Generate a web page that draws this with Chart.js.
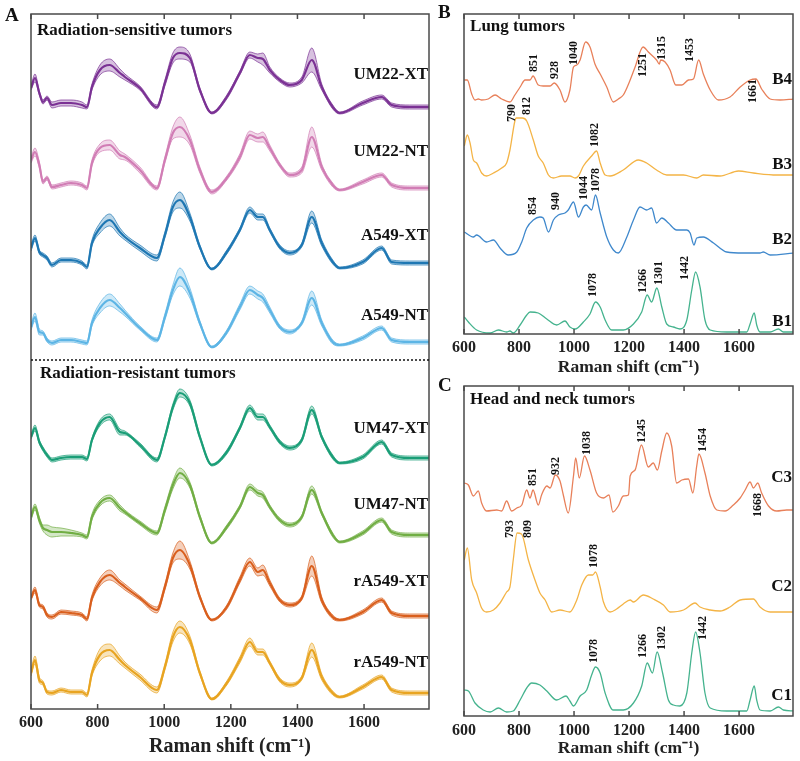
<!DOCTYPE html>
<html>
<head>
<meta charset="utf-8">
<script src="https://cdn.jsdelivr.net/npm/chart.js@4.4.1/dist/chart.umd.min.js"></script>
<style>
  body { margin: 0; background: #fff; width: 800px; height: 761px; position: relative; overflow: hidden; }
  .panel { position: absolute; }
  .letter { position: absolute; font: bold 19px "Liberation Serif", serif; line-height: 1; color: #111; }
</style>
</head>
<body>
<div class="panel" style="left:0;top:0"><canvas id="chartA" width="440" height="761"></canvas></div>
<div class="panel" style="left:440px;top:0"><canvas id="chartB" width="360" height="380"></canvas></div>
<div class="panel" style="left:440px;top:380px"><canvas id="chartC" width="360" height="381"></canvas></div>
<div class="letter" style="left:5px;top:5px">A</div>
<div class="letter" style="left:438px;top:2px">B</div>
<div class="letter" style="left:438px;top:375px">C</div>

<script>
const SERIF = '"Liberation Serif", "Times New Roman", serif';
const XTITLE = "Raman shift (cm\u207B\u00B9)";
const xTicks = [600, 800, 1000, 1200, 1400, 1600];

// ---- Panel A: mean spectra with spread, common Raman shift grid (cm-1) ----
const ramanA = [600, 612, 625, 636, 648, 663, 690, 720, 753, 768,
  783, 807, 836, 867, 882, 927, 978, 1002, 1026, 1047,
  1077, 1107, 1143, 1188, 1227, 1257, 1281, 1296, 1317, 1347,
  1377, 1413, 1443, 1473, 1506, 1527, 1596, 1653, 1683, 1737, 1795];

const namesA = ["UM22-XT", "UM22-NT", "A549-XT", "A549-NT", "UM47-XT", "UM47-NT", "rA549-XT", "rA549-NT"];
const colorsA = ["#7b3294", "#d27db5", "#1f78b4", "#5db5e6", "#1b9e77", "#72ae44", "#d95f1e", "#e8a421"];
const offsetsA = [596, 517, 440, 362, 244, 166, 89, 10];
const labelYA = [634, 557, 473, 393, 280, 204, 127, 46];

const um22xt = [25,35,20,11,15,8,10,10,8,6, 26,43,48,40,36,25,6,30,55,60, 55,23,0,16,40,58,55,54,43,33, 28,33,53,26,6,0,10,16,8,6, 6];
const um22xtSd = [2,4,2,2,2,3,3,3,3,2, 3,5,6,4,3,2,2,3,5,6, 4,2,1,2,2,3,4,6,3,2, 2,3,12,3,2,1,2,2,2,2, 2];
const um22nt = [32,40,27,10,14,5,7,9,7,4, 29,44,47,37,35,22,4,32,59,65, 52,22,0,14,35,57,54,55,44,27, 17,22,55,25,7,2,10,17,7,4, 4];
const um22ntSd = [3,4,3,2,2,2,2,2,2,2, 3,4,5,4,3,3,2,3,6,10, 5,3,2,2,3,4,4,5,3,2, 2,3,10,3,2,1,2,2,2,2, 2];
const a549xt = [21,31,17,14,11,4,9,9,6,2, 26,41,49,37,32,21,11,34,62,69, 52,22,0,17,39,59,52,52,39,22, 16,24,52,26,7,1,7,21,7,6, 6];
const a549xtSd = [3,3,2,2,2,2,2,2,2,2, 3,5,6,4,3,3,3,3,5,8, 4,2,1,2,2,3,3,3,2,2, 2,2,6,3,2,1,2,2,2,2, 2];
const a549nt = [20,30,15,14,7,4,7,7,5,4, 24,39,47,39,34,19,7,30,57,70, 54,24,0,15,40,57,52,49,37,20, 15,24,49,24,5,2,9,19,7,5, 5];
const a549ntSd = [3,4,3,2,2,2,2,2,2,2, 3,5,6,4,3,2,2,3,5,9, 5,2,1,2,3,4,4,4,3,2, 2,2,7,3,2,1,2,2,2,2, 2];
const um47xt = [28,37,23,16,10,5,7,8,8,6, 25,42,48,33,32,20,5,28,58,72, 62,28,0,13,37,57,48,48,38,23, 17,25,55,28,8,2,8,23,10,7, 7];
const um47xtSd = [2,3,2,2,2,2,2,2,2,2, 2,3,3,3,2,2,2,2,3,4, 3,2,1,2,2,3,3,3,2,2, 2,2,4,2,2,1,2,2,2,2, 2];
const um47nt = [26,36,23,15,13,11,11,10,8,6, 26,40,45,35,31,20,10,33,58,70, 58,26,0,16,36,56,50,48,36,23, 18,26,53,30,8,1,10,23,11,8, 8];
const um47ntSd = [3,3,3,3,5,5,4,3,2,2, 3,3,3,3,2,2,2,3,4,5, 3,2,1,2,2,3,3,3,2,2, 2,2,4,2,2,1,2,2,2,2, 2];
const ra549xt = [22,30,15,13,5,3,8,7,5,1, 22,38,45,37,33,22,10,33,62,70, 55,23,0,13,40,58,48,50,37,20, 15,22,54,20,3,0,8,20,7,4, 4];
const ra549xtSd = [2,3,2,2,2,2,2,2,2,2, 3,4,5,3,3,2,3,3,5,9, 4,2,1,2,3,4,4,5,3,2, 2,2,10,3,2,1,2,2,2,2, 2];
const ra549nt = [26,39,19,16,7,6,9,7,7,4, 26,44,49,39,34,22,9,32,62,72, 59,26,0,16,39,57,47,47,36,19, 14,21,49,22,6,2,12,22,9,6, 6];
const ra549ntSd = [3,4,3,2,2,2,2,2,2,2, 3,6,6,4,3,3,3,3,5,6, 4,2,1,2,3,4,3,3,2,2, 2,2,7,3,2,1,2,2,2,2, 2];

const meansA = [um22xt, um22nt, a549xt, a549nt, um47xt, um47nt, ra549xt, ra549nt];
const spreadsA = [um22xtSd, um22ntSd, a549xtSd, a549ntSd, um47xtSd, um47ntSd, ra549xtSd, ra549ntSd];

// ---- Panel B: lung tumors ----
const xB4 = [601,612,628,640,652,664,688,713,737,767, 785,804,822,840,851,870,888,913,928,949,
  967,985,998,1010,1022,1042,1058,1076,1095,1119, 1143,1161,1179,1204,1222,1251,1270,1300,1310,1315,
  1331,1349,1370,1392,1416,1434,1453,1470,1495,1525, 1567,1604,1640,1661,1682,1713,1749,1798];
const yB4 = [22,22,8,2,3,2,3,7,3,0, 7,15,22,22,26,17,16,16,19,12,
  0,12,35,37,42,60,55,38,28,15, 0,3,7,22,35,55,50,42,38,42,
  40,32,17,17,22,23,42,28,12,2, 5,15,22,23,13,3,2,3];
const xB3 = [601,612,622,634,646,664,682,707,737,755, 767,785,790,812,828,852,870,888,907,925,
  955,985,1004,1016,1034,1064,1082,1095,1113,1131, 1179,1234,1264,1300,1337,1398,1446,1470,1531,1598,
  1652,1737,1798];
const yB3 = [32,43,35,18,15,5,2,5,10,15, 28,57,60,60,57,38,22,15,3,0,
  2,2,0,2,12,22,27,15,3,2, 8,18,15,8,3,3,0,3,2,7, 5,3,3];
const xB2 = [601,634,646,682,707,731,761,792,810,828, 852,876,888,907,925,943,967,979,998,1016,
  1034,1044,1064,1078,1095,1119,1143,1161,1192,1216, 1240,1264,1282,1300,1319,1343,1373,1410,1422,1436,
  1446,1470,1507,1555,1616,1676,1688,1713,1798];
const yB2 = [23,18,20,13,15,7,0,3,13,27, 35,38,37,23,35,40,42,45,53,38,
  48,50,45,60,42,18,5,2,18,35, 48,45,47,32,37,32,25,25,22,10,
  17,18,12,3,2,2,3,0,2];
const xB1 = [601,616,646,695,725,755,767,779,804,828, 840,870,901,937,967,985,1004,1034,1058,1078,
  1095,1113,1137,1179,1216,1246,1266,1282,1301,1319, 1337,1361,1385,1410,1428,1442,1458,1476,1495,1555,
  1628,1640,1655,1664,1676,1713,1743,1761,1798];
const yB1 = [16,11,3,0,3,1,2,0,8,18, 21,20,14,8,12,6,4,11,19,31,
  26,13,3,3,9,21,38,31,45,26, 9,6,4,13,43,61,46,13,3,1,
  1,9,20,8,1,1,4,1,1];

const namesB = ["B4", "B3", "B2", "B1"];
const offsetsB = [232, 156, 79, 1];
const labelYB = [254, 169, 94, 12];
const peaksB = [
  ["851", 855, 262], ["928", 931, 255], ["1040", 998, 269], ["1251", 1252, 257], ["1315", 1321, 274],
  ["1453", 1422, 272], ["1661", 1652, 231], ["790", 773, 212], ["812", 828, 219], ["1082", 1076, 187],
  ["854", 852, 119], ["940", 933, 124], ["1044", 1036, 134], ["1078", 1079, 142],
  ["1078", 1070, 37], ["1266", 1252, 41], ["1301", 1309, 49], ["1442", 1404, 54]
];

// ---- Panel C: head and neck tumors ----
const xC3 = [601,616,634,652,664,682,719,737,755,773, 792,810,828,840,851,870,882,901,913,932,
  949,961,979,998,1006,1019,1038,1058,1082,1107, 1127,1141,1161,1179,1198,1204,1222,1245,1270,1288,
  1303,1319,1337,1355,1373,1392,1416,1432,1446,1454, 1476,1495,1519,1549,1579,1604,1622,1640,1652,1668,
  1682,1707,1737,1773,1798];
const yC3 = [30,28,17,22,10,2,3,2,12,2, 5,8,23,15,23,8,18,27,25,38,
  32,18,0,37,55,35,57,43,20,15, 18,1,7,17,18,37,43,68,46,50,
  43,62,80,67,30,33,34,20,47,59, 40,17,3,2,8,15,23,31,25,30,
  20,7,2,3,3];
const xC2 = [601,612,628,646,664,682,707,731,755,767, 779,793,809,834,858,876,895,919,949,985,
  1010,1028,1052,1068,1078,1095,1107,1131,1155,1179, 1204,1216,1252,1288,1325,1349,1398,1440,1458,1495,
  1531,1567,1604,1652,1676,1713,1798];
const yC2 = [52,64,32,19,4,0,2,9,20,25, 52,79,78,52,32,19,12,0,2,0,
  12,27,37,37,40,25,10,0,3,8, 12,10,17,13,7,0,2,9,5,2,
  1,5,12,13,5,0,0];
const xC1 = [601,616,640,670,695,725,755,779,804,828, 846,876,901,937,971,985,998,1022,1046,1064,
  1078,1095,1113,1143,1179,1216,1246,1266,1285,1302, 1322,1343,1361,1385,1410,1428,1442,1458,1476,1495,
  1555,1628,1640,1655,1664,1676,1713,1743,1761,1798];
const yC1 = [22,21,9,2,0,4,0,1,12,24, 29,27,21,12,16,11,6,16,22,37,
  45,39,19,2,2,9,26,49,39,60, 39,12,7,6,19,59,80,59,19,4,
  1,1,12,26,12,2,1,5,2,1];

const namesC = ["C3", "C2", "C1"];
const offsetsC = [203, 104, 4];
const labelYC = [238, 129, 20];
const peaksC = [
  ["851", 852, 230], ["932", 933, 241], ["1038", 1046, 261], ["1245", 1248, 273], ["1454", 1468, 264],
  ["1668", 1668, 199], ["793", 767, 178], ["809", 834, 178], ["1078", 1074, 148],
  ["1078", 1073, 53], ["1266", 1252, 58], ["1302", 1319, 66], ["1442", 1470, 76]
];

const COL_RED = "#e8805a", COL_YEL = "#f4b446", COL_BLUE = "#3f88cc", COL_GRN = "#45b38e";

function rgba(hex, a) {
  const n = parseInt(hex.slice(1), 16);
  return `rgba(${n >> 16},${(n >> 8) & 255},${n & 255},${a})`;
}
function pts(xs, ys, off) {
  return xs.map((x, i) => ({ x: x, y: ys[i] + off }));
}
function line(data, color, width) {
  return { data: data, borderColor: color, borderWidth: width, pointRadius: 0, fill: false,
           cubicInterpolationMode: "monotone" };
}

// box, inward ticks and all the text on top of the plot
function decor(cfg) {
  return {
    id: "decor",
    afterDatasetsDraw(chart) {
      const { ctx, chartArea: a, scales: { x, y } } = chart;
      ctx.save();
      ctx.strokeStyle = "#4a4a4a";
      ctx.lineWidth = 1.5;
      ctx.strokeRect(a.left, a.top, a.right - a.left, a.bottom - a.top);
      x.ticks.forEach(t => {
        const px = x.getPixelForValue(t.value);
        ctx.beginPath();
        ctx.moveTo(px, a.bottom); ctx.lineTo(px, a.bottom - 5);
        ctx.moveTo(px, a.top); ctx.lineTo(px, a.top + 5);
        ctx.stroke();
      });
      if (cfg.separator != null) {
        ctx.setLineDash([2, 2]);
        ctx.strokeStyle = "#111";
        ctx.lineWidth = 1.5;
        const py = y.getPixelForValue(cfg.separator);
        ctx.beginPath(); ctx.moveTo(a.left, py); ctx.lineTo(a.right, py); ctx.stroke();
        ctx.setLineDash([]);
      }
      ctx.fillStyle = "#111";
      ctx.textBaseline = "middle";
      ctx.font = `bold 17px ${SERIF}`;
      ctx.textAlign = "left";
      cfg.titles.forEach(([t, tx, ty]) => ctx.fillText(t, x.getPixelForValue(tx), y.getPixelForValue(ty)));
      ctx.textAlign = "right";
      cfg.names.forEach((t, i) => ctx.fillText(t, a.right - 1, y.getPixelForValue(cfg.nameY[i])));
      ctx.font = `bold 12px ${SERIF}`;
      ctx.textAlign = "left";
      (cfg.peaks || []).forEach(([t, tx, ty]) => {
        ctx.save();
        ctx.translate(x.getPixelForValue(tx), y.getPixelForValue(ty));
        ctx.rotate(-Math.PI / 2);
        ctx.fillText(t, 0, 0);
        ctx.restore();
      });
      ctx.restore();
    }
  };
}

function options(xmax, ymax, pad, axisH, tickPad, titleSize, titlePad) {
  return {
    responsive: false,
    animation: false,
    layout: { padding: pad },
    plugins: { legend: { display: false }, tooltip: { enabled: false } },
    scales: {
      x: {
        type: "linear", min: 600, max: xmax,
        afterBuildTicks: s => { s.ticks = xTicks.map(v => ({ value: v })); },
        afterFit: s => { s.height = axisH; },
        border: { display: false },
        grid: { display: false, drawTicks: false },
        ticks: { autoSkip: false, maxRotation: 0, minRotation: 0, padding: tickPad, color: "#222",
                 callback: v => String(v),
                 font: { family: SERIF, size: 16, weight: "bold" } },
        title: { display: true, text: XTITLE, color: "#222", padding: { top: 0, bottom: titlePad },
                 font: { family: SERIF, size: titleSize, weight: "bold" } }
      },
      y: { display: false, min: 0, max: ymax }
    }
  };
}

// Panel A
const dsA = [];
meansA.forEach((m, k) => {
  const off = offsetsA[k], sd = spreadsA[k], c = colorsA[k];
  const up = ramanA.map((x, i) => ({ x: x, y: m[i] + sd[i] + off }));
  const lo = ramanA.map((x, i) => ({ x: x, y: m[i] - sd[i] + off }));
  dsA.push(line(up, rgba(c, 0.7), 1));
  dsA.push(Object.assign(line(lo, rgba(c, 0.7), 1), { fill: "-1", backgroundColor: rgba(c, 0.3) }));
  dsA.push(line(pts(ramanA, m, off), c, 2.2));
});

new Chart(document.getElementById("chartA"), {
  type: "line",
  data: { datasets: dsA },
  options: options(1795, 695, { left: 31, right: 11, top: 14, bottom: 0 }, 52, 4, 20, 2),
  plugins: [decor({
    separator: 349,
    titles: [["Radiation-sensitive tumors", 618, 678], ["Radiation-resistant tumors", 627, 335]],
    names: namesA, nameY: labelYA
  })]
});

// Panel B
new Chart(document.getElementById("chartB"), {
  type: "line",
  data: { datasets: [
    line(pts(xB4, yB4, offsetsB[0]), COL_RED, 1.3),
    line(pts(xB3, yB3, offsetsB[1]), COL_YEL, 1.3),
    line(pts(xB2, yB2, offsetsB[2]), COL_BLUE, 1.3),
    line(pts(xB1, yB1, offsetsB[3]), COL_GRN, 1.3)
  ] },
  options: options(1796, 320, { left: 24, right: 7, top: 14, bottom: 0 }, 46, 4, 17.5, 2),
  plugins: [decor({ titles: [["Lung tumors", 622, 307]], names: namesB, nameY: labelYB, peaks: peaksB })]
});

// Panel C
new Chart(document.getElementById("chartC"), {
  type: "line",
  data: { datasets: [
    line(pts(xC3, yC3, offsetsC[0]), COL_RED, 1.3),
    line(pts(xC2, yC2, offsetsC[1]), COL_YEL, 1.3),
    line(pts(xC1, yC1, offsetsC[2]), COL_GRN, 1.3)
  ] },
  options: options(1796, 330, { left: 24, right: 7, top: 6, bottom: 0 }, 45, 5, 17.5, 2),
  plugins: [decor({ titles: [["Head and neck tumors", 622, 316]], names: namesC, nameY: labelYC, peaks: peaksC })]
});
</script>
</body>
</html>
